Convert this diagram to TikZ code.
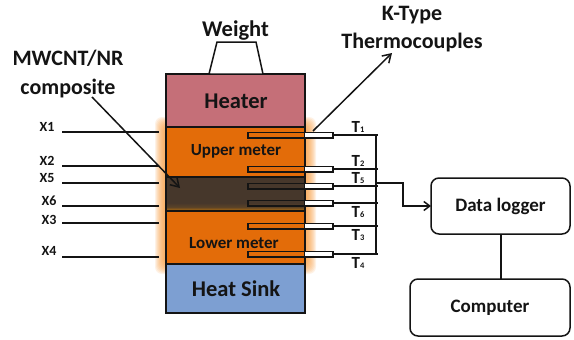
\documentclass[tikz,border=0pt]{standalone}
\usepackage{fontspec}
\setmainfont{Carlito}
\usetikzlibrary{arrows.meta,calc}
\definecolor{heatercol}{HTML}{C56F78}
\definecolor{sinkcol}{HTML}{7D9FD2}
\definecolor{metercol}{HTML}{E36C09}
\definecolor{inkcol}{HTML}{141414}
\definecolor{glowcol}{HTML}{F79A3C}
\definecolor{compdark}{HTML}{46372B}
\definecolor{compmid}{HTML}{5A4228}
\definecolor{compglow}{HTML}{A8690F}
\pgfdeclareverticalshading{compshade}{100bp}{
  color(0bp)=(compglow);
  color(26bp)=(compglow);
  color(31bp)=(compmid);
  color(37bp)=(compdark);
  color(100bp)=(compdark)}
\tikzset{
  x=1pt,y=-1pt,
  line/.style={draw=inkcol,line width=1.5pt},
  block/.style={line,minimum width=139pt,inner sep=0pt,outer sep=0pt},
  lab/.style={inner sep=0pt,text=inkcol},
  blockl/.style={lab,font=\bfseries\fontsize{22.5}{24}\selectfont},
  meterl/.style={lab,font=\bfseries\fontsize{17}{19}\selectfont},
  xlab/.style={lab,font=\bfseries\fontsize{14}{14}\selectfont},
  tlab/.style={lab,font=\bfseries\fontsize{17}{17}\selectfont},
  bigl/.style={lab,font=\bfseries\fontsize{22}{28.5}\selectfont,align=center},
  sys/.style={line,rounded corners=8pt,inner sep=0pt,outer sep=0pt,font=\bfseries\fontsize{19}{21}\selectfont,text=inkcol},
  probe/.style={line,minimum width=85pt,minimum height=5.5pt,inner sep=0pt,outer sep=0pt},
}
\newcommand{\sub}[1]{{\fontsize{8.5}{8.5}\selectfont #1}}
\begin{document}
\begin{tikzpicture}
\useasboundingbox (0,0) rectangle (574,340);
% glow
\foreach \d in {0,1,...,9}{
  \fill[glowcol,opacity=0.13,rounded corners=7pt] (155+\d,117+\d) rectangle (316-\d,274-\d);
}
% blocks
\node[block,fill=heatercol,minimum height=53pt] (heater) at (235.5,100.5) {};
\node[blockl] at (236,101) {Heater};
\node[block,fill=metercol,minimum height=50pt] (upper) at (235.5,152) {};
\node[meterl] at (236,151) {Upper meter};
\shade[shading=compshade] (166,177) rectangle (305,211);
\node[block,minimum height=34pt] (comp) at (235.5,194) {};
\node[block,fill=metercol,minimum height=53pt] (lower) at (235.5,237.5) {};
\node[meterl] at (234,243) {Lower meter};
\node[block,fill=sinkcol,minimum height=49pt] (sink) at (235.5,288.5) {};
\node[blockl] at (236,289) {Heat Sink};
% weight
\coordinate (wa) at (209,74); \coordinate (wb) at (217,42);
\coordinate (wc) at (256,42); \coordinate (wd) at (263,74);
\draw[line,fill=white] (wa) -- (wb) -- (wc) -- (wd) -- cycle;
\node[blockl] (weight) at (235.5,31) {Weight};
% probes and leads
\coordinate (bustop) at (376,135);
\coordinate (busbot) at (376,255);
\foreach \n/\y in {p1/135,p2/169,p5/186,p6/203,p3/226,p4/254}{
  \fill[white] (305,\y-2.75) rectangle (333,\y+2.75);
  \node[probe] (\n) at (290.5,\y) {};
  \coordinate (\n b) at (378,\y);
  \draw[line] (\n.east) -- (\n b);
}
\draw[line] (bustop) -- (busbot);
% T labels
\node[tlab] (t1) at (358,127) {T\sub{1}};
\node[tlab] (t2) at (358,161) {T\sub{2}};
\node[tlab] (t5) at (358,178) {T\sub{5}};
\node[tlab] (t6) at (358,212) {T\sub{6}};
\node[tlab] (t3) at (358,235) {T\sub{3}};
\node[tlab] (t4) at (358,263) {T\sub{4}};
% X lines
\foreach \n/\t/\y/\ly/\lx in {a/X1/132/127/47,b/X2/166/161/47,c/X5/183/178/47,d/X6/206/201/49,e/X3/223/220/49,f/X4/257/251/49}{
  \coordinate (\n l) at (62,\y);
  \coordinate (\n r) at (159,\y);
  \draw[line] (\n l) -- (\n r);
  \node[xlab] (\n t) at (\lx,\ly) {\t};
}
% system
\node[sys,minimum width=139pt,minimum height=56pt] (logger) at (500.5,206) {Data logger};
\node[sys,minimum width=160pt,minimum height=57pt] (computer) at (490,307.5) {Computer};
\coordinate (lc) at (501,234);
\coordinate (cc) at (501,279);
\draw[line] (lc) -- (cc);
\coordinate (busout) at (376,183);
\coordinate (bend1) at (403,183);
\coordinate (bend2) at (403,206);
\draw[line,-{Straight Barb[length=6pt,width=9pt]}] (busout) -- (bend1) -- (bend2) -- (logger.west);
% callouts
\node[bigl] (mw) at (68,74) {MWCNT/NR\\composite};
\coordinate (mwstart) at (92,97);
\coordinate (mwend) at (180,188);
\draw[line,-{Straight Barb[length=8pt,width=10pt]}] (mwstart) -- (mwend);
\node[bigl] (kt) at (412,29) {K-Type\\Thermocouples};
\coordinate (ktstart) at (313,131);
\coordinate (ktend) at (392,53);
\draw[line,-{Straight Barb[length=8pt,width=10pt]}] (ktstart) -- (ktend);
\end{tikzpicture}
\end{document}
